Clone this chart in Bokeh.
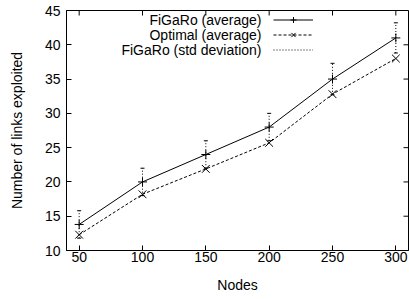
import math
from bokeh.plotting import figure
from bokeh.models import FixedTicker, Legend, LegendItem, Range1d, ColumnDataSource, Label
from bokeh.embed import file_html
from bokeh.resources import INLINE

# ---- data ----
nodes = [50, 100, 150, 200, 250, 300]
figaro_avg = [13.8, 20.0, 24.0, 28.0, 35.0, 41.0]
figaro_std = [2.0, 2.0, 2.0, 2.0, 2.3, 2.2]
optimal_avg = [12.3, 18.2, 21.9, 25.7, 32.8, 38.0]
x_ticks = [50, 100, 150, 200, 250, 300]
y_ticks = [10, 15, 20, 25, 30, 35, 40, 45]
x_limits = [40, 310]
y_limits = [10, 45]
legend_labels = ["FiGaRo (average)", "Optimal (average)", "FiGaRo (std deviation)"]
x_title = "Nodes"
y_title = "Number of links exploited"

FONT = "Liberation Sans"
FS = "14px"

upper = [m + s for m, s in zip(figaro_avg, figaro_std)]
lower = [m - s for m, s in zip(figaro_avg, figaro_std)]
src = ColumnDataSource(dict(x=nodes, fa=figaro_avg, oa=optimal_avg, up=upper, lo=lower))

p = figure(width=409, height=299, output_backend="svg", toolbar_location=None,
           x_range=Range1d(*x_limits), y_range=Range1d(*y_limits),
           min_border_left=66, min_border_right=1, min_border_top=10, min_border_bottom=49)
p.grid.visible = False
p.outline_line_color = "black"
p.outline_line_width = 1
p.background_fill_color = "white"
p.border_fill_color = "white"

for ax in (p.xaxis[0], p.yaxis[0]):
    ax.major_tick_in = 5
    ax.major_tick_out = 0
    ax.minor_tick_line_color = None
    ax.axis_line_color = "black"
    ax.major_tick_line_color = "black"
    ax.major_label_text_font = FONT
    ax.major_label_text_font_size = FS
    ax.major_label_text_color = "black"
    ax.axis_label_text_font = FONT
    ax.axis_label_text_font_size = FS
    ax.axis_label_text_font_style = "normal"
    ax.axis_label_text_color = "black"

p.xaxis.ticker = FixedTicker(ticks=x_ticks)
p.yaxis.ticker = FixedTicker(ticks=y_ticks)
p.xaxis.axis_label = x_title
p.yaxis.axis_label = y_title
p.xaxis.major_label_standoff = 1
p.xaxis.axis_label_standoff = 12
p.yaxis.major_label_standoff = 6
p.yaxis.axis_label_standoff = 17

# mirrored ticks on the top and right borders
p.scatter(x=x_ticks, y=[y_limits[1]] * len(x_ticks), marker="dash", angle=math.pi / 2,
          size=10, line_color="black", line_width=1)
p.scatter(x=[x_limits[1]] * len(y_ticks), y=y_ticks, marker="dash",
          size=10, line_color="black", line_width=1)

# error bars (std deviation)
seg = p.segment(x0="x", y0="lo", x1="x", y1="up", source=src, line_color="black",
                line_width=1, line_dash="1 2")
p.scatter(x="x", y="up", source=src, marker="dash", size=4, line_color="black", line_width=1)
p.scatter(x="x", y="lo", source=src, marker="dash", size=4, line_color="black", line_width=1)

# FiGaRo average
l1 = p.line(x="x", y="fa", source=src, line_color="black", line_width=1)
m1 = p.scatter(x="x", y="fa", source=src, marker="cross", size=9, line_color="black", line_width=1)

# Optimal average
l2 = p.line(x="x", y="oa", source=src, line_color="black", line_width=1, line_dash="3 2")
m2 = p.scatter(x="x", y="oa", source=src, marker="x", size=11, line_color="black", line_width=1)

# legend samples (glyphs only) ...
legend = Legend(items=[LegendItem(label=" ", renderers=[l1, m1]),
                       LegendItem(label=" ", renderers=[l2, m2]),
                       LegendItem(label=" ", renderers=[seg])],
                location=(207, 193), glyph_width=40, glyph_height=15, label_height=15,
                label_width=0, label_standoff=0, spacing=0, padding=0, margin=0,
                background_fill_alpha=0, border_line_color=None,
                label_text_font=FONT, label_text_font_size=FS, label_text_color="black")
p.add_layout(legend)

# ... with the texts right-aligned to their left, as in the reference
for i, t in enumerate(legend_labels):
    p.add_layout(Label(x=195, y=230.5 - i * 15, x_units="screen", y_units="screen", text=t,
                       text_align="right", text_baseline="middle", text_font=FONT,
                       text_font_size=FS, text_color="black"))

open("out.html", "w").write(file_html(p, INLINE))
